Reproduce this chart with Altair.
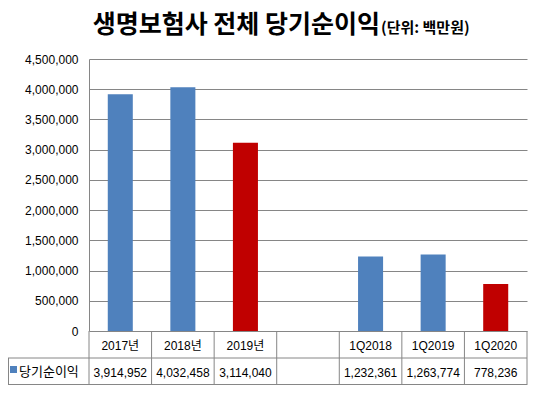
import altair as alt
import pandas as pd

# ---- data ----
categories = ["2017년", "2018년", "2019년", " ", "1Q2018", "1Q2019", "1Q2020"]
profits = [3914952, 4032458, 3114040, None, 1232361, 1263774, 778236]
red_categories = ["2019년", "1Q2020"]
y_ticks = [0, 500000, 1000000, 1500000, 2000000, 2500000, 3000000, 3500000, 4000000, 4500000]
series_name = "당기순이익"
title_main = "생명보험사 전체 당기순이익"
title_unit = "(단위: 백만원)"

df = pd.DataFrame({"cat": categories, "value": profits})

# ---- layout ----
W, H = 438, 272
R1, R2 = 27, 27
LEFT = 81
TOP = 51
GRID = "#868686"
BLUE = "#4F81BD"
RED = "#C00000"
NUM_FONT = "Liberation Sans, Noto Sans CJK KR"
KR_FONT = "Noto Sans CJK KR"

xscale = alt.Scale(domain=categories, paddingInner=0, paddingOuter=0)
yscale = alt.Scale(domain=[0, 4500000], nice=False, zero=True)

bars = alt.Chart(df).mark_bar(width=alt.RelativeBandSize(0.4)).encode(
    x=alt.X("cat:N", scale=xscale, axis=None, sort=None),
    y=alt.Y(
        "value:Q",
        scale=yscale,
        axis=alt.Axis(
            values=y_ticks, format=",d", title=None, grid=True, ticks=False,
            tickSize=0, labelPadding=11, domain=True, domainColor=GRID,
            domainWidth=1, gridColor=GRID, gridWidth=1, gridOpacity=1,
            labelFont="Liberation Sans", labelFontSize=12, labelColor="#000000",
        ),
    ),
    color=alt.condition(
        alt.FieldOneOfPredicate(field="cat", oneOf=red_categories),
        alt.value(RED), alt.value(BLUE),
    ),
)

# table vertical lines at the start of each category band
vlines = alt.Chart(df).mark_rule(color=GRID, strokeWidth=1).encode(
    x=alt.X("cat:N", scale=xscale, bandPosition=0, sort=None),
    y=alt.value(H), y2=alt.value(H + R1 + R2),
)
vline_end = alt.Chart(df).transform_filter(
    alt.datum.cat == categories[-1]
).mark_rule(color=GRID, strokeWidth=1).encode(
    x=alt.X("cat:N", scale=xscale, bandPosition=1, sort=None),
    y=alt.value(H), y2=alt.value(H + R1 + R2),
)

one = pd.DataFrame({"k": [0]})
hline1 = alt.Chart(one).mark_rule(color=GRID, strokeWidth=1).encode(
    x=alt.value(-LEFT), x2=alt.value(W), y=alt.value(H + R1))
hline2 = alt.Chart(one).mark_rule(color=GRID, strokeWidth=1).encode(
    x=alt.value(-LEFT), x2=alt.value(W), y=alt.value(H + R1 + R2 - 0.5))
vline_left = alt.Chart(one).mark_rule(color=GRID, strokeWidth=1).encode(
    x=alt.value(-LEFT + 0.5), y=alt.value(H + R1), y2=alt.value(H + R1 + R2))

cat_text = alt.Chart(df).mark_text(
    font=NUM_FONT, fontSize=12, color="#000000", baseline="middle", align="center"
).encode(
    x=alt.X("cat:N", scale=xscale, sort=None),
    y=alt.value(H + R1 / 2 + 1),
    text="cat:N",
)
val_text = alt.Chart(df).transform_filter(
    "isValid(datum.value)"
).mark_text(
    font=NUM_FONT, fontSize=12, color="#000000", baseline="middle", align="center"
).encode(
    x=alt.X("cat:N", scale=xscale, sort=None),
    y=alt.value(H + R1 + R2 / 2 + 1),
    text=alt.Text("value:Q", format=",d"),
)

legend_sq = alt.Chart(one).mark_rect(color=BLUE).encode(
    x=alt.value(-LEFT + 2), x2=alt.value(-LEFT + 9),
    y=alt.value(H + R1 + 8), y2=alt.value(H + R1 + 15),
)
legend_txt = alt.Chart(pd.DataFrame({"t": [series_name]})).mark_text(
    font=KR_FONT, fontSize=13, color="#000000", baseline="middle", align="left"
).encode(
    x=alt.value(-LEFT + 11), y=alt.value(H + R1 + R2 / 2), text="t:N"
)

title1 = alt.Chart(pd.DataFrame({"t": [title_main]})).mark_text(
    font=KR_FONT, fontSize=25, fontWeight="bold", color="#000000",
    baseline="alphabetic", align="right",
).encode(x=alt.value(291), y=alt.value(-26), text="t:N")
title2 = alt.Chart(pd.DataFrame({"t": [title_unit]})).mark_text(
    font=KR_FONT, fontSize=15, fontWeight="bold", color="#000000",
    baseline="alphabetic", align="left",
).encode(x=alt.value(292), y=alt.value(-26), text="t:N")

chart = alt.layer(
    bars, vlines, vline_end, hline1, hline2, vline_left,
    cat_text, val_text, legend_sq, legend_txt, title1, title2,
).properties(
    width=W, height=H,
    autosize=alt.AutoSizeParams(type="none"),
    padding={"left": LEFT, "top": TOP, "right": 1, "bottom": R1 + R2 + 1},
    background="white",
).configure_view(strokeWidth=0)

chart.save("out.html", embed_options={"renderer": "svg", "actions": False})
